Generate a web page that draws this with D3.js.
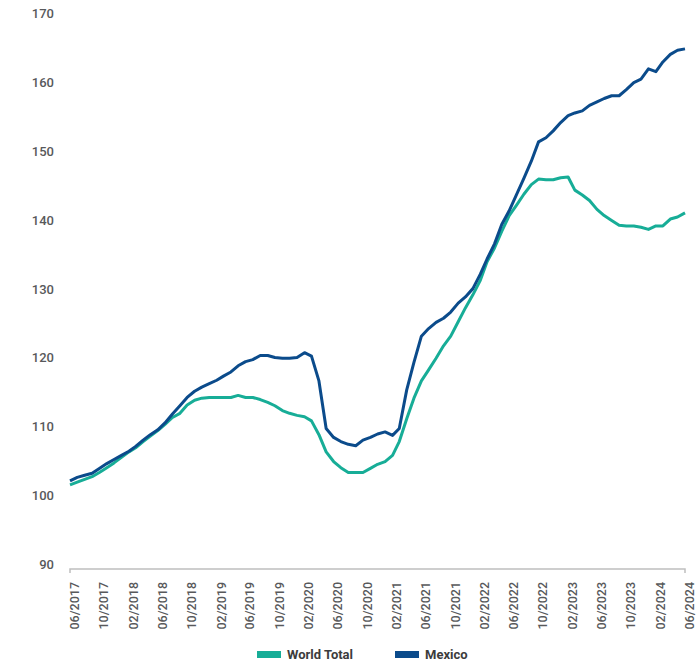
<!DOCTYPE html>
<html><head><meta charset="utf-8">
<script src="https://cdn.jsdelivr.net/npm/d3@7"></script>
<style>body{margin:0;background:#fff;} svg{display:block;font-family:Roboto,"DejaVu Sans",sans-serif;}</style>
</head><body>
<svg id="c" width="700" height="663"></svg>
<script>
const startMonth = new Date(2017, 5, 1);
const endMonth = new Date(2024, 5, 1);
const yTicks = [90,100,110,120,130,140,150,160,170];
const seriesNames = ["World Total","Mexico"];
const seriesColors = ["#17ad97","#0b4b8b"];
const worldTotal = [102.2,102.6,103.0,103.4,104.0,104.7,105.4,106.2,107.0,107.6,
  108.5,109.3,110.1,111.0,112.0,112.6,113.8,114.5,114.8,114.9,
  114.9,114.9,114.9,115.2,114.9,114.9,114.6,114.2,113.7,113.0,
  112.6,112.3,112.1,111.5,109.5,107.0,105.6,104.7,104.0,104.0,
  104.0,104.6,105.2,105.6,106.5,108.5,111.8,114.8,117.3,118.9,
  120.6,122.4,123.8,125.9,127.9,129.8,131.9,134.6,136.6,139.0,
  141.3,142.8,144.4,145.8,146.6,146.5,146.5,146.8,146.9,145.0,
  144.3,143.5,142.2,141.3,140.6,139.9,139.8,139.8,139.6,139.3,
  139.8,139.8,140.8,141.1,141.7];
const mexico = [102.8,103.3,103.6,103.9,104.6,105.3,105.9,106.5,107.1,107.8,
  108.7,109.5,110.2,111.2,112.5,113.7,114.9,115.8,116.4,116.9,
  117.4,118.0,118.6,119.5,120.1,120.4,121.0,121.0,120.7,120.6,
  120.6,120.7,121.4,120.9,117.3,110.4,109.1,108.5,108.1,107.9,
  108.7,109.1,109.6,109.9,109.4,110.4,116.0,120.0,123.8,124.9,
  125.8,126.4,127.3,128.6,129.5,130.7,132.8,135.0,137.2,140.0,
  142.0,144.3,146.7,149.2,152.0,152.6,153.6,154.8,155.8,156.2,
  156.5,157.3,157.8,158.3,158.7,158.7,159.6,160.6,161.1,162.6,
  162.2,163.6,164.7,165.3,165.5];
const values = [worldTotal, mexico];

const months = d3.timeMonth.range(startMonth, d3.timeMonth.offset(endMonth, 1));
const tickMonths = months.filter((d,i)=> i % 4 === 0);

const svg = d3.select("#c");
const x = d3.scaleTime().domain([startMonth, endMonth]).range([70, 685]);
const y = d3.scaleLinear().domain([90, 170]).range([569, 17.9]);

// y labels
svg.append("g").selectAll("text").data(yTicks).join("text")
  .attr("x", 54).attr("y", d => y(d) - 4.5).attr("dy", "0.35em")
  .attr("text-anchor", "end").attr("font-size", 13).attr("font-weight", 500)
  .attr("fill", "#58595b").text(d => d);

// x axis
const xAxis = svg.append("g").attr("transform", `translate(0,${y(90)})`)
  .call(d3.axisBottom(x).tickValues(tickMonths).tickFormat(d3.timeFormat("%m/%Y")).tickSize(0).tickPadding(0));
xAxis.select(".domain").remove();
xAxis.append("path").attr("fill","none").attr("stroke","#bfbfbf").attr("stroke-width",1.5)
  .attr("d", `M${x(startMonth)},4V0H${x(endMonth)}V4`);
xAxis.selectAll(".tick text")
  .attr("transform", "rotate(-90)")
  .attr("text-anchor", "end")
  .attr("x", -13).attr("y", 0).attr("dy", "0.35em").attr("dx", 0)
  .style("font-size", "12.5px").style("font-weight", 500).style("fill", "#58595b")
  .style("font-family", "Roboto, sans-serif");
xAxis.selectAll(".tick").attr("transform", d => `translate(${x(d)+4.5},0)`);

// lines
const line = d3.line().x((d,i) => x(months[i])).y(d => y(d)).curve(d3.curveLinear);
values.forEach((vals, k) => {
  svg.append("path").datum(vals).attr("fill","none")
    .attr("stroke", seriesColors[k]).attr("stroke-width", 3)
    .attr("stroke-linejoin","round").attr("d", line);
});

// legend
const legendX = [257, 395];
const lg = svg.append("g");
seriesNames.forEach((n, k) => {
  lg.append("rect").attr("x", legendX[k]).attr("y", 651).attr("width", 24).attr("height", 7)
    .attr("fill", seriesColors[k]);
  lg.append("text").attr("x", legendX[k] + 30).attr("y", 654.5).attr("dy", "0.35em")
    .attr("font-size", 13).attr("font-weight", 700).attr("fill", "#3c3c3c").text(n);
});
</script>
</body></html>
